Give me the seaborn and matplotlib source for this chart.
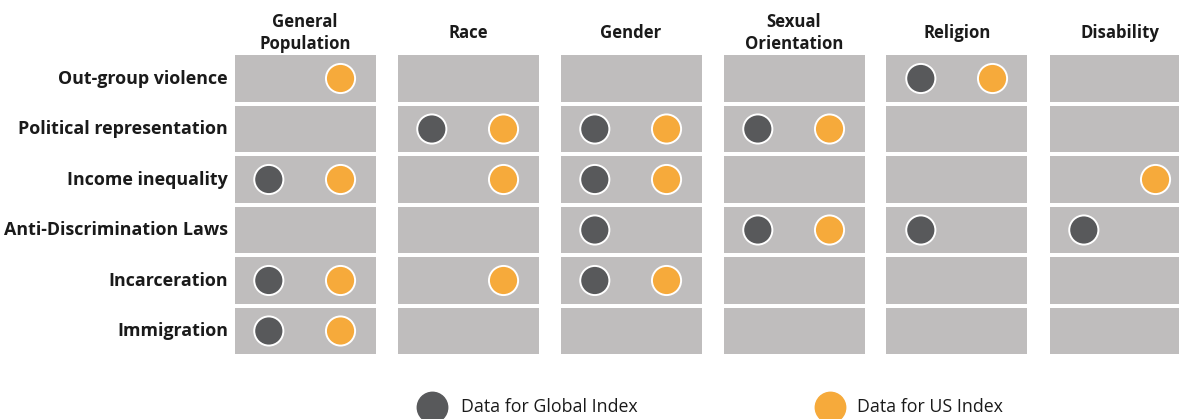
import numpy as np
import pandas as pd
import matplotlib
matplotlib.use("Agg")
import matplotlib.pyplot as plt
from matplotlib.patches import Rectangle
import seaborn as sns

# --- data -------------------------------------------------------------
rows = ["Out-group violence", "Political representation", "Income inequality",
        "Anti-Discrimination Laws", "Incarceration", "Immigration"]
cols = ["General\nPopulation", "Race", "Gender", "Sexual\nOrientation", "Religion", "Disability"]

# 1 = data available for that index
global_index = [
    [0, 0, 0, 0, 1, 0],
    [0, 1, 1, 1, 0, 0],
    [1, 0, 1, 0, 0, 0],
    [0, 0, 1, 1, 1, 1],
    [1, 0, 1, 0, 0, 0],
    [1, 0, 0, 0, 0, 0],
]
us_index = [
    [1, 0, 0, 0, 1, 0],
    [0, 1, 1, 1, 0, 0],
    [1, 1, 1, 0, 0, 1],
    [0, 0, 0, 1, 0, 0],
    [1, 1, 1, 0, 0, 0],
    [1, 0, 0, 0, 0, 0],
]
legend_labels = ["Data for Global Index", "Data for US Index"]

# --- styling ------------------------------------------------------------
CELL = "#bfbdbd"
DARK = "#58595b"
ORANGE = "#f6aa3b"
OFFSETS = {"Global": -0.222, "US": 0.218}
PITCH_X, PITCH_Y = 163.0, 50.5   # px per column / row
X0, Y0 = 305.0, 78.5              # px of first cell centre

sns.set_style("white")
plt.rcParams["font.family"] = ["Open Sans", "DejaVu Sans"]

# long-form table of dots
recs = []
for name, mat in (("Global", global_index), ("US", us_index)):
    for i, r in enumerate(rows):
        for j, c in enumerate(cols):
            if mat[i][j]:
                recs.append({"row": i, "x": j + OFFSETS[name], "Index": name})
dots = pd.DataFrame(recs)

fig = plt.figure(figsize=(11.79, 4.19), dpi=100)
ax = fig.add_axes([0, 0, 1, 1])
ax.set_xlim(-X0 / PITCH_X, (1179 - X0) / PITCH_X)
ax.set_ylim((419 - Y0) / PITCH_Y, -Y0 / PITCH_Y)
ax.axis("off")

# grey cells
hw, hh = 70.5 / PITCH_X, 0.462
for i in range(len(rows)):
    for j in range(len(cols)):
        ax.add_patch(Rectangle((j - hw, i - hh), 2 * hw, 2 * hh,
                               facecolor=CELL, edgecolor="none", zorder=1))

sns.scatterplot(data=dots, x="x", y="row", hue="Index",
                palette={"Global": DARK, "US": ORANGE},
                s=440, edgecolor="white", linewidth=1.4,
                legend=False, ax=ax, zorder=3)

# labels
for i, r in enumerate(rows):
    ax.text(-77 / PITCH_X, i, r, ha="right", va="center", fontsize=12.9,
            fontweight="bold", color="#1a1a1a")
for j, c in enumerate(cols):
    ax.text(j, -0.9, c, ha="center", va="center", fontsize=12.1,
            fontweight="bold", color="#1a1a1a", linespacing=1.3)

# legend
ly = (407 - Y0) / PITCH_Y
ax.scatter([1 + OFFSETS["Global"]], [ly], s=480, color=DARK, zorder=3)
ax.text(1 + OFFSETS["Global"] + 0.18, ly, legend_labels[0], ha="left",
        va="center", fontsize=12.8, color="#1a1a1a")
ax.scatter([3 + OFFSETS["US"]], [ly], s=480, color=ORANGE, zorder=3)
ax.text(3 + OFFSETS["US"] + 0.17, ly, legend_labels[1], ha="left",
        va="center", fontsize=12.8, color="#1a1a1a")

fig.savefig("out.png", dpi=100, facecolor="white")
